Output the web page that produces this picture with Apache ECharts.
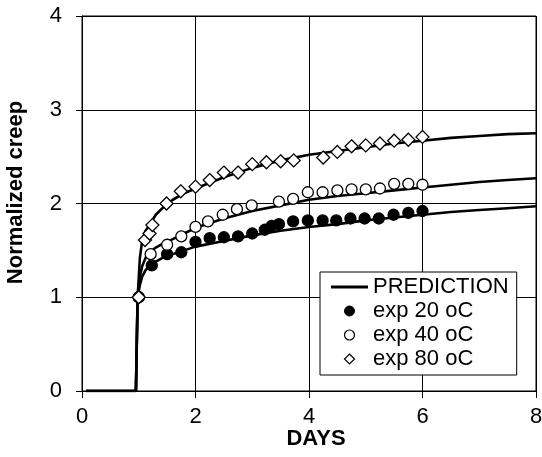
<!DOCTYPE html>
<html lang="en">
<head>
    <meta charset="UTF-8">
    <title>Normalized creep</title>
    <script src="https://cdn.jsdelivr.net/npm/echarts@6/dist/echarts.min.js"></script>
    <style>
        html, body { margin: 0; padding: 0; background: #fff; }
    </style>
</head>
<body>
<div id="main" style="width: 542px;height:457px;"></div>

<script type="text/javascript">
    // 实验数据 (days, normalized creep)
    var exp20X = [1.0, 1.23, 1.5, 1.75, 2.0, 2.25, 2.5, 2.75, 3.0, 3.22, 3.34, 3.47, 3.72, 3.98, 4.24, 4.48, 4.73, 4.98, 5.23, 5.49, 5.75, 6.0];
    var exp20Y = [1.0, 1.34, 1.46, 1.48, 1.59, 1.63, 1.64, 1.65, 1.68, 1.72, 1.76, 1.78, 1.81, 1.82, 1.82, 1.82, 1.84, 1.84, 1.84, 1.88, 1.9, 1.92];

    var exp40X = [1.0, 1.21, 1.5, 1.75, 2.0, 2.22, 2.48, 2.73, 2.99, 3.47, 3.72, 3.98, 4.24, 4.5, 4.75, 5.0, 5.25, 5.5, 5.75, 6.0];
    var exp40Y = [1.0, 1.46, 1.56, 1.65, 1.75, 1.81, 1.88, 1.94, 1.98, 2.02, 2.05, 2.12, 2.12, 2.14, 2.15, 2.15, 2.16, 2.21, 2.21, 2.2];

    var exp80X = [1.0, 1.11, 1.19, 1.24, 1.49, 1.74, 2.0, 2.25, 2.5, 2.75, 3.0, 3.25, 3.5, 3.73, 4.25, 4.5, 4.75, 5.0, 5.25, 5.5, 5.75, 6.0];
    var exp80Y = [1.0, 1.61, 1.68, 1.77, 2.0, 2.13, 2.18, 2.25, 2.33, 2.33, 2.42, 2.44, 2.45, 2.46, 2.49, 2.55, 2.61, 2.62, 2.64, 2.67, 2.68, 2.71];

    // 预测曲线
    var predX  = [0.07, 0.95, 0.98, 1.02, 1.06, 1.12, 1.2, 1.3, 1.45, 1.6, 1.8, 2.0, 2.5, 3.0, 3.5, 4.0, 4.5, 5.0, 5.5, 6.0, 6.5, 7.0, 7.5, 8.0];
    var pred80 = [0, 0, 1.0, 1.42, 1.6, 1.71, 1.78, 1.88, 1.97, 2.04, 2.11, 2.16, 2.28, 2.38, 2.46, 2.52, 2.56, 2.6, 2.64, 2.67, 2.7, 2.72, 2.74, 2.75];
    var pred40 = [0, 0, 1.0, 1.22, 1.33, 1.42, 1.48, 1.53, 1.58, 1.62, 1.68, 1.74, 1.84, 1.92, 1.98, 2.04, 2.08, 2.11, 2.14, 2.17, 2.2, 2.23, 2.25, 2.27];
    var pred20 = [0, 0, 1.0, 1.13, 1.22, 1.29, 1.34, 1.38, 1.43, 1.46, 1.5, 1.54, 1.6, 1.66, 1.71, 1.75, 1.78, 1.82, 1.85, 1.88, 1.91, 1.93, 1.95, 1.97];

    function zip(xs, ys) {
        return xs.map(function (x, i) {
            return [x, ys[i]];
        });
    }

    var font = 'Liberation Sans';
    var myChart = echarts.init(document.getElementById('main'));

    function predLine(ys) {
        return {
            name: 'PREDICTION',
            type: 'line',
            data: zip(predX, ys),
            showSymbol: false,
            symbol: 'none',
            lineStyle: { color: '#000', width: 2.6 },
            itemStyle: { color: '#000' },
            z: 2,
            silent: true
        };
    }

    function expSeries(name, xs, ys, symbol, size, fill) {
        return {
            name: name,
            type: 'scatter',
            data: zip(xs, ys),
            symbol: symbol,
            symbolSize: size,
            itemStyle: { color: fill, borderColor: '#000', borderWidth: 1.3, opacity: 1 },
            z: 3,
            silent: true
        };
    }

    var option = {
        animation: false,
        textStyle: { fontFamily: font, color: '#000' },
        grid: {
            left: 82,
            right: 6,
            top: 16,
            bottom: 66,
            outerBoundsMode: 'none',
            containLabel: false,
            show: true,
            borderColor: '#000',
            borderWidth: 1
        },
        legend: {
            orient: 'vertical',
            left: 320,
            top: 272,
            padding: [4, 8, 5, 11],
            itemGap: 2,
            itemWidth: 37,
            itemHeight: 10,
            backgroundColor: '#fff',
            borderColor: '#000',
            borderWidth: 1,
            borderRadius: 0,
            selectedMode: false,
            textStyle: { fontFamily: font, fontSize: 22, color: '#000' },
            data: [
                { name: 'PREDICTION', icon: 'path://M0,0H37V3H0Z', itemStyle: { color: '#000', borderWidth: 0 } },
                { name: 'exp 20 oC', icon: 'circle', itemStyle: { color: '#000', borderColor: '#000', borderWidth: 1 } },
                { name: 'exp 40 oC', icon: 'circle', itemStyle: { color: '#fff', borderColor: '#000', borderWidth: 1.2 } },
                { name: 'exp 80 oC', icon: 'path://M5,0L10,5L5,10L0,5Z', itemStyle: { color: '#fff', borderColor: '#000', borderWidth: 1.2 } }
            ]
        },
        xAxis: {
            type: 'value',
            min: 0,
            max: 8,
            interval: 2,
            name: 'DAYS',
            nameLocation: 'middle',
            nameGap: 37,
            nameMoveOverlap: false,
            nameTextStyle: { fontFamily: font, fontSize: 22, fontWeight: 'bold', color: '#000', padding: [0, 0, 0, 14] },
            axisLine: { lineStyle: { color: '#000', width: 1 } },
            axisTick: { show: true, length: 7, lineStyle: { color: '#000' } },
            axisLabel: { fontFamily: font, fontSize: 22, color: '#000', margin: 15 },
            splitLine: { show: true, lineStyle: { color: '#000', width: 1 } }
        },
        yAxis: {
            type: 'value',
            min: 0,
            max: 4,
            interval: 1,
            name: 'Normalized creep',
            nameLocation: 'middle',
            nameGap: 55,
            nameMoveOverlap: false,
            nameTextStyle: { fontFamily: font, fontSize: 22, fontWeight: 'bold', color: '#000', padding: [0, 0, 0, 22] },
            axisLine: { show: true, lineStyle: { color: '#000', width: 1 } },
            axisTick: { show: true, length: 6, lineStyle: { color: '#000' } },
            axisLabel: { fontFamily: font, fontSize: 22, color: '#000', margin: 20 },
            splitLine: { show: true, lineStyle: { color: '#000', width: 1 } }
        },
        series: [
            predLine(pred20),
            predLine(pred40),
            predLine(pred80),
            expSeries('exp 20 oC', exp20X, exp20Y, 'circle', 11, '#000'),
            expSeries('exp 40 oC', exp40X, exp40Y, 'circle', 11, '#fff'),
            expSeries('exp 80 oC', exp80X, exp80Y, 'diamond', 13, '#fff')
        ]
    };

    myChart.setOption(option);
</script>
</body>
</html>
